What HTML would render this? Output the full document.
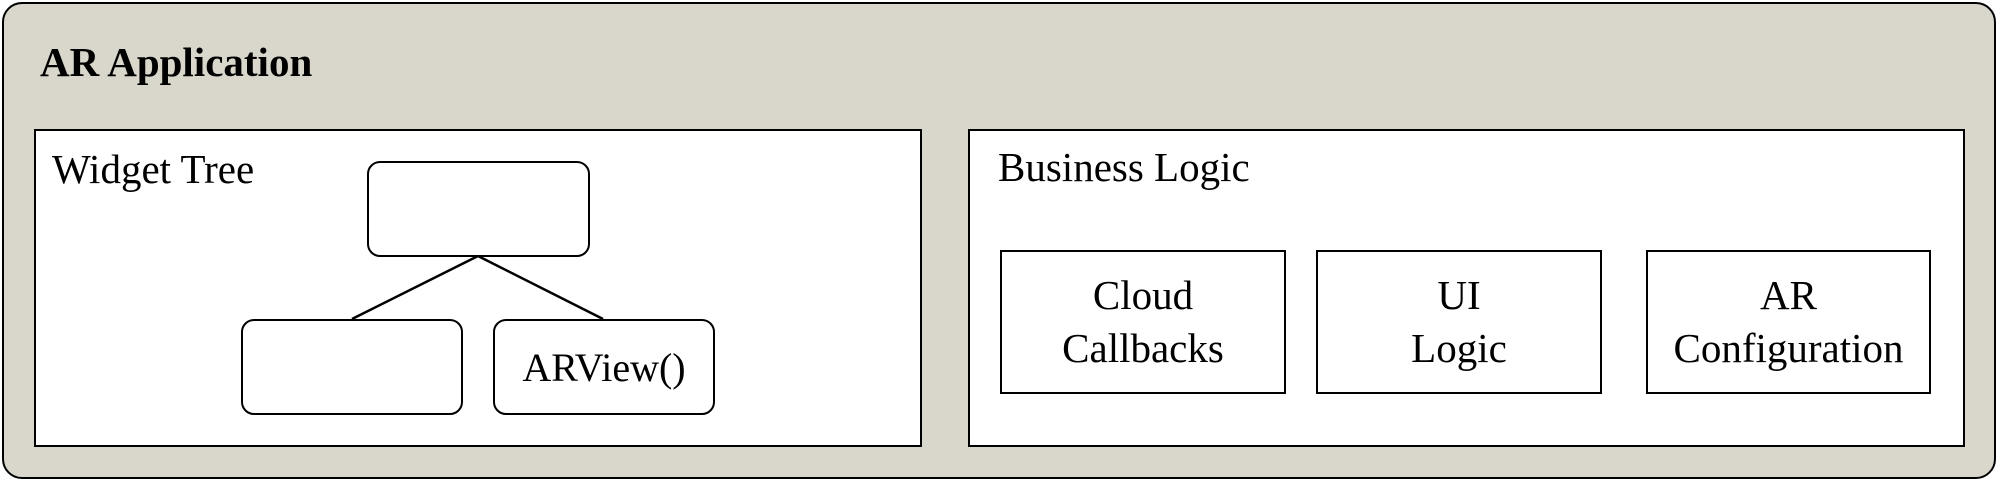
<!DOCTYPE html>
<html><head><meta charset="utf-8"><style>
body{margin:0;width:1999px;height:481px;background:#fff;position:relative;overflow:hidden;font-family:"Liberation Serif",serif;color:#000}
div{position:absolute;box-sizing:border-box}
.t{white-space:nowrap}
.b{border:2.5px solid #000;background:#fff;display:flex;align-items:center;justify-content:center;text-align:center;font-size:41px;line-height:53px}
</style></head><body>
<div style="left:2px;top:2px;width:1994px;height:477px;background:#d9d7cb;border:2.5px solid #000;border-radius:20px"></div>
<div class="t" style="left:40px;top:38px;font-size:41px;font-weight:bold">AR Application</div>
<div style="left:34px;top:129px;width:888px;height:318px;background:#fff;border:2.5px solid #000"></div>
<div style="left:968px;top:129px;width:997px;height:318px;background:#fff;border:2.5px solid #000"></div>
<div class="t" style="left:52px;top:145px;font-size:41px">Widget Tree</div>
<div class="t" style="left:998px;top:143px;font-size:41px">Business Logic</div>
<svg style="position:absolute;left:0;top:0" width="1999" height="481"><line x1="478" y1="256" x2="352" y2="319" stroke="#000" stroke-width="2.5"/><line x1="478" y1="256" x2="603" y2="319" stroke="#000" stroke-width="2.5"/></svg>
<div class="b" style="left:367px;top:161px;width:223px;height:96px;border-radius:13px"></div>
<div class="b" style="left:241px;top:319px;width:222px;height:96px;border-radius:13px"></div>
<div class="b" style="left:493px;top:319px;width:222px;height:96px;border-radius:13px;font-size:40px">ARView()</div>
<div class="b" style="left:1000px;top:250px;width:286px;height:144px">Cloud<br>Callbacks</div>
<div class="b" style="left:1316px;top:250px;width:286px;height:144px">UI<br>Logic</div>
<div class="b" style="left:1646px;top:250px;width:285px;height:144px">AR<br>Configuration</div>
</body></html>
